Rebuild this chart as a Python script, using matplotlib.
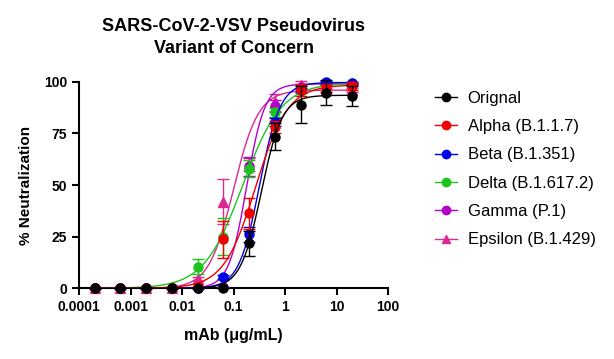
import numpy as np
import matplotlib
matplotlib.use("Agg")
import matplotlib.pyplot as plt

plt.rcParams['font.family'] = ['Liberation Sans', 'DejaVu Sans']

# concentrations (ug/mL), 3.16-fold dilutions
conc = [0.0002, 0.000632, 0.002, 0.00632, 0.02, 0.0632, 0.2, 0.632, 2, 6.32, 20]

names = ['Orignal', 'Alpha (B.1.1.7)', 'Beta (B.1.351)', 'Delta (B.1.617.2)',
         'Gamma (P.1)', 'Epsilon (B.1.429)']
colors = ['#000000', '#f00000', '#0000e8', '#1ec41e', '#b400c8', '#dc2890']
markers = ['o', 'o', 'o', 'o', 'o', '^']

original = [0, 0, 0, 0, 0, 0, 21.8, 73.4, 89, 94.8, 93.2]
alpha = [0, 0, 0, 0, 0.5, 23.7, 36.3, 78.2, 96, 97, 98]
beta = [0, 0, 0, 0, 0, 5.6, 26.1, 80.6, 96, 99.7, 99.5]
delta = [0, 0, 0, 0, 10.5, 25, 57.9, 85.2, 95.5, 99, 99.5]
gamma = [0, 0, 0, 0, 0, 0.5, 59, 88.2, 97.5, 99, 99]
epsilon = [0, 0, 0, 0, 4.4, 42, 60, 90, 98.4, 96, 96]

original_err = [0, 0, 0, 0, 0, 0, 6, 6.5, 9, 6, 5]
alpha_err = [0, 0, 0, 0, 0, 9, 7.5, 3, 3, 2, 2]
beta_err = [0, 0, 0, 0, 0, 1, 3.5, 2, 1, 0.5, 0.5]
delta_err = [0, 0, 0, 0, 3.5, 9, 4, 2, 1, 0.5, 0.5]
gamma_err = [0, 0, 0, 0, 0, 0, 4.5, 3, 1, 0.5, 0.5]
epsilon_err = [0, 0, 0, 0, 1, 11, 3, 4, 2, 1, 1]

# 4PL fit parameters (bottom = 0)
top = [93.5, 98.5, 99.7, 99.5, 99, 96]
ec50 = [0.347, 0.27, 0.32, 0.15, 0.18, 0.10]
hill = [2.16, 1.4, 2.16, 1.15, 2.5, 1.8]

values = [original, alpha, beta, delta, gamma, epsilon]
errors = [original_err, alpha_err, beta_err, delta_err, gamma_err, epsilon_err]

fig = plt.figure(figsize=(6.14, 3.59), dpi=100)
ax = fig.add_axes([0.1287, 0.197, 0.5033, 0.575])

xs = np.logspace(np.log10(conc[0]), np.log10(conc[-1]), 300)
for i in reversed(range(len(names))):
    z = 3 + (len(names) - i)
    fit = top[i] / (1 + (ec50[i] / xs) ** hill[i])
    ax.plot(xs, fit, color=colors[i], lw=1, zorder=z, clip_on=False)
    ax.errorbar(conc, values[i], yerr=errors[i], fmt='none', ecolor=colors[i],
                elinewidth=1, capsize=4, capthick=1, zorder=z, clip_on=False)
    ax.plot(conc, values[i], ls='none', marker=markers[i], ms=6.5,
            color=colors[i], zorder=z + 0.5, clip_on=False)

handles = []
for i in range(len(names)):
    h, = ax.plot([], [], color=colors[i], lw=1, marker=markers[i], ms=6)
    handles.append(h)

ax.set_xscale('log')
ax.set_xlim(1e-4, 100)
ax.set_ylim(0, 100)
ax.set_xticks([0.0001, 0.001, 0.01, 0.1, 1, 10, 100])
ax.set_xticklabels(['0.0001', '0.001', '0.01', '0.1', '1', '10', '100'])
ax.xaxis.set_minor_locator(matplotlib.ticker.NullLocator())
ax.set_yticks([0, 25, 50, 75, 100])
for s in ['top', 'right']:
    ax.spines[s].set_visible(False)
for s in ['left', 'bottom']:
    ax.spines[s].set_linewidth(1.5)
ax.tick_params(width=1.5, length=5, labelsize=10)
for lab in ax.get_xticklabels() + ax.get_yticklabels():
    lab.set_fontweight('bold')

ax.set_xlabel('mAb (\u03bcg/mL)', fontsize=11.5, fontweight='bold', labelpad=10)
ax.set_ylabel('% Neutralization', fontsize=11, fontweight='bold', labelpad=8)
ax.set_title('SARS-CoV-2-VSV Pseudovirus\nVariant of Concern', fontsize=13,
             fontweight='bold', pad=21, linespacing=1.35)

fig.legend(handles, names, loc='upper left', bbox_to_anchor=(0.7085, 0.747),
           frameon=False, fontsize=12, handlelength=1.3, handletextpad=0.66,
           labelspacing=0.8, borderpad=0, borderaxespad=0)

fig.savefig('out.png', dpi=100)
